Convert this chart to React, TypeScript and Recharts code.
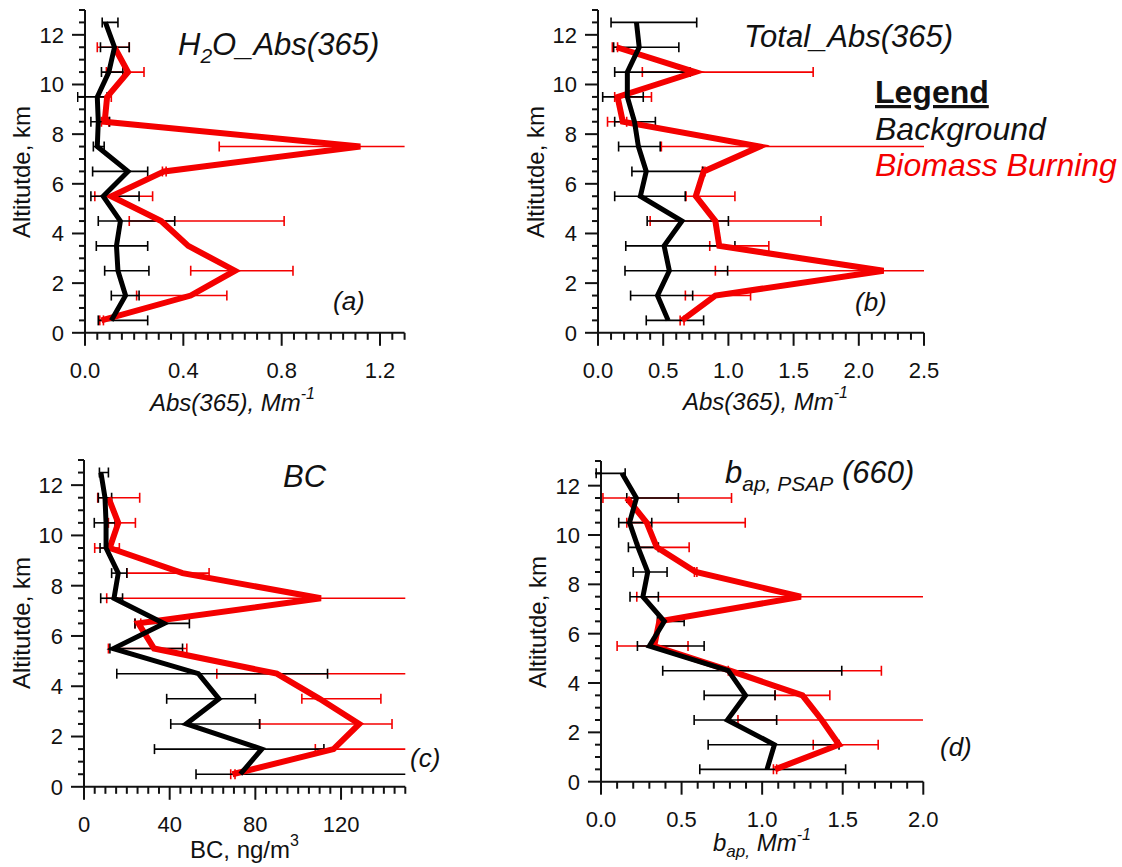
import React from 'react';
import { ScatterChart, Scatter, XAxis, YAxis, ErrorBar } from 'recharts';

// Altitude bin centres (km) shared by every profile
const ALTITUDES = [0.5, 1.5, 2.5, 3.5, 4.5, 5.5, 6.5, 7.5, 8.5, 9.5, 10.5, 11.5, 12.5];

// (a) H2O_Abs(365), Mm^-1
const H2O_BG = [0.107, 0.165, 0.134, 0.128, 0.144, 0.074, 0.175, 0.05, 0.054, 0.05, 0.097, 0.12, 0.083];
const H2O_BG_LO = [0.054, 0.107, 0.08, 0.046, 0.054, 0.024, 0.031, 0.034, 0.024, -0.03, 0.067, 0.063, 0.07];
const H2O_BG_HI = [0.255, 0.22, 0.26, 0.255, 0.365, 0.22, 0.255, 0.078, 0.1, 0.09, 0.154, 0.18, 0.134];
const H2O_BB = [0.067, 0.43, 0.61, 0.42, 0.31, 0.107, 0.322, 1.12, 0.08, 0.09, 0.175, 0.12, null];
const H2O_BB_LO = [0.06, 0.21, 0.43, null, 0.18, 0.04, 0.315, 0.546, 0.067, 0.054, 0.087, 0.05, null];
const H2O_BB_HI = [0.075, 0.577, 0.846, null, 0.81, 0.275, 0.33, 1.5, 0.097, 0.107, 0.24, 0.18, null];

// (b) Total_Abs(365), Mm^-1
const TOT_BG = [0.538, 0.456, 0.547, 0.507, 0.644, 0.325, 0.37, 0.31, 0.28, 0.225, 0.225, 0.316, 0.295];
const TOT_BG_LO = [0.37, 0.25, 0.207, 0.213, 0.377, 0.128, 0.26, 0.158, 0.128, 0.036, 0.128, 0.12, 0.1];
const TOT_BG_HI = [0.81, 0.726, 0.994, 1.05, 1.0, 0.669, 0.805, 0.477, 0.44, 0.347, 0.705, 0.62, 0.757];
const TOT_BB = [0.644, 0.9, 2.19, 0.93, 0.9, 0.75, 0.81, 1.24, 0.19, 0.15, 0.745, 0.143, null];
const TOT_BB_LO = [0.63, 0.67, 0.9, 0.857, 0.4, 0.675, 0.8, 0.486, 0.073, 0.128, 0.34, 0.11, null];
const TOT_BB_HI = [0.66, 1.17, 2.8, 1.31, 1.71, 1.05, 0.82, 2.8, 0.22, 0.41, 1.65, 0.15, null];

// (c) BC, ng/m^3
const BC_BG = [73, 83, 47.7, 63, 53.4, 13.7, 37.4, 14, 16, 10.3, 10.3, 9.8, 7.9];
const BC_BG_LO = [52.3, 32.9, 40.5, 38.6, 15.3, 12.1, 23.8, 7.8, 12.9, 7.5, 4.8, 6.7, 7.2];
const BC_BG_HI = [160, 112, 82, 80, 113.7, 46, 49.2, 18, 20, 11.4, 14.5, 12.9, 11.4];
const BC_BB = [69.3, 116.5, 128.5, 110, 90, 32.7, 25.4, 110.6, 46, 12, 16, 11.4, null];
const BC_BB_LO = [68.5, 108, 82, 101.7, 62, 11.4, 23.8, 10.6, 20, 5, 11.4, 6.4, null];
const BC_BB_HI = [70.5, 160, 143.8, 138.6, 160, 48, 26.5, 160, 58.4, 16.5, 24, 26, null];

// (d) b_ap, PSAP (660), Mm^-1
const PSAP_BG = [1.03, 1.076, 0.784, 0.897, 0.79, 0.3, 0.393, 0.26, 0.29, 0.23, 0.177, 0.22, 0.13];
const PSAP_BG_LO = [0.613, 0.665, 0.578, 0.64, 0.383, 0.226, 0.35, 0.18, 0.2, 0.17, 0.11, 0.16, -0.03];
const PSAP_BG_HI = [1.518, 1.477, 1.09, 1.08, 1.494, 0.64, 0.516, 0.356, 0.41, 0.356, 0.315, 0.48, 0.15];
const PSAP_BB = [1.08, 1.477, 1.37, 1.25, 0.8, 0.33, 0.362, 1.24, 0.588, 0.346, 0.284, 0.16, null];
const PSAP_BB_LO = [1.07, 1.317, 0.85, 1.08, 0.79, 0.1, 0.355, 0.222, 0.58, 0.232, 0.16, 0.012, null];
const PSAP_BB_HI = [1.09, 1.72, 2.3, 1.42, 1.74, 0.54, 0.37, 2.3, 0.595, 0.547, 0.895, 0.81, null];

// Labelled ticks
const Y_MAJOR = [0, 2, 4, 6, 8, 10, 12];
const A_X_MAJOR = [0, 0.4, 0.8, 1.2];
const B_X_MAJOR = [0, 0.5, 1.0, 1.5, 2.0, 2.5];
const C_X_MAJOR = [0, 40, 80, 120];
const D_X_MAJOR = [0, 0.5, 1.0, 1.5, 2.0];

const FONT = '"Liberation Sans", Arial, Helvetica, sans-serif';
const INK = '#111';
const RED = '#f40000';

type Row = { alt: number; v: number; err?: [number, number] };

function profile(vals: (number | null)[], lo: (number | null)[], hi: (number | null)[]): Row[] {
  const rows: Row[] = [];
  ALTITUDES.forEach((alt, i) => {
    const v = vals[i];
    if (v == null) return;
    const row: Row = { alt, v };
    const l = lo[i];
    const h = hi[i];
    if (l != null && h != null) row.err = [v - l, h - v];
    rows.push(row);
  });
  return rows;
}

function tickRange(max: number, step: number): number[] {
  const n = Math.round(max / step);
  const out: number[] = [];
  for (let i = 0; i <= n; i++) out.push(+(i * step).toFixed(4));
  return out;
}

const isMajor = (v: number, majors: number[]) => majors.some((m) => Math.abs(m - v) < 1e-6);

const Y_TICKS = tickRange(13, 0.5);

const emptyShape = () => <g />;

// Frame geometry around each plot area
const ML = 80;
const MT = 10;
const MR = 24;
const XH = 60;

type PanelProps = {
  left: number;
  top: number;
  plotW: number;
  plotH: number;
  xMax: number;
  xStep: number;
  xMajors: number[];
  xFmt: (v: number) => string;
  bg: Row[];
  bb: Row[];
};

function Panel(p: PanelProps) {
  const width = p.plotW + ML + MR;
  const height = p.plotH + MT + XH;
  const xTicks = tickRange(p.xMax, p.xStep);

  const renderXTick = (props: any) => {
    const { x, y, payload } = props;
    const major = isMajor(payload.value, p.xMajors);
    return (
      <g>
        <line x1={x} x2={x} y1={y} y2={y + (major ? 13 : 7)} stroke={INK} strokeWidth={2} />
        {major && (
          <text x={x} y={y + 45} textAnchor="middle" fontSize={22} fill={INK} fontFamily={FONT}>
            {p.xFmt(payload.value)}
          </text>
        )}
      </g>
    );
  };

  const renderYTick = (props: any) => {
    const { x, y, payload } = props;
    const major = isMajor(payload.value, Y_MAJOR);
    return (
      <g>
        <line x1={x} x2={x - (major ? 13 : 6)} y1={y} y2={y} stroke={INK} strokeWidth={2} />
        {major && (
          <text x={x - 21} y={y} dy="0.36em" textAnchor="end" fontSize={22} fill={INK} fontFamily={FONT}>
            {payload.value}
          </text>
        )}
      </g>
    );
  };

  const axes = (visible: boolean) => [
    <XAxis
      key="x"
      type="number"
      dataKey="v"
      domain={[0, p.xMax]}
      allowDataOverflow
      ticks={xTicks}
      interval={0}
      tickSize={0}
      tickMargin={0}
      tickLine={false}
      axisLine={visible ? { stroke: INK, strokeWidth: 2 } : false}
      height={XH}
      tick={visible ? renderXTick : false}
    />,
    <YAxis
      key="y"
      type="number"
      dataKey="alt"
      domain={[0, 13]}
      allowDataOverflow
      ticks={Y_TICKS}
      interval={0}
      tickSize={0}
      tickMargin={0}
      tickLine={false}
      axisLine={visible ? { stroke: INK, strokeWidth: 2 } : false}
      width={ML}
      tick={visible ? renderYTick : false}
    />,
  ];

  const boxStyle = { position: 'absolute' as const, left: p.left - ML, top: p.top - MT };

  return (
    <>
      {/* frame: axes, ticks and tick labels */}
      <div style={boxStyle}>
        <ScatterChart width={width} height={height} margin={{ top: MT, right: MR, bottom: 0, left: 0 }}>
          {axes(true)}
          <Scatter data={p.bg} shape={emptyShape} legendType="none" isAnimationActive={false} />
        </ScatterChart>
      </div>
      {/* profiles, cut off at the ends of the value axis */}
      <div style={{ ...boxStyle, clipPath: `inset(0px ${MR}px 0px ${ML - 8}px)` }}>
        <ScatterChart width={width} height={height} margin={{ top: MT, right: MR, bottom: 0, left: 0 }}>
          {axes(false)}
          <Scatter
            name="Biomass Burning"
            data={p.bb}
            fill={RED}
            line={{ stroke: RED, strokeWidth: 6 }}
            shape={emptyShape}
            legendType="none"
            isAnimationActive={false}
          >
            <ErrorBar dataKey="err" direction="x" width={5} stroke={RED} strokeWidth={1.6} isAnimationActive={false} />
          </Scatter>
          <Scatter
            name="Background"
            data={p.bg}
            fill="#000"
            line={{ stroke: '#000', strokeWidth: 5 }}
            shape={emptyShape}
            legendType="none"
            isAnimationActive={false}
          >
            <ErrorBar dataKey="err" direction="x" width={5} stroke="#000" strokeWidth={1.6} isAnimationActive={false} />
          </Scatter>
        </ScatterChart>
      </div>
    </>
  );
}

const fmt1 = (v: number) => v.toFixed(1);
const fmt0 = (v: number) => String(Math.round(v));

function Annotations() {
  const italic = { fontFamily: FONT, fontStyle: 'italic' as const, fill: INK };
  const yTitle = (x: number, y: number) => (
    <text
      transform={`translate(${x},${y}) rotate(-90)`}
      textAnchor="middle"
      dy="0.36em"
      fontSize={24}
      fontFamily={FONT}
      fill={INK}
    >
      Altitutde, km
    </text>
  );
  return (
    <svg
      width={1122}
      height={867}
      style={{ position: 'absolute', left: 0, top: 0, pointerEvents: 'none' }}
    >
      {/* axis titles */}
      {yTitle(21, 172)}
      {yTitle(535, 172)}
      {yTitle(21, 623)}
      {yTitle(537, 622)}

      <text x={150} y={411} fontSize={24} {...italic}>
        Abs(365), Mm
        <tspan dy={-12} fontSize={16}>-1</tspan>
      </text>
      <text x={683} y={410} fontSize={24} {...italic}>
        Abs(365), Mm
        <tspan dy={-12} fontSize={16}>-1</tspan>
      </text>
      <text x={190} y={858} fontSize={24} fontFamily={FONT} fill={INK}>
        BC, ng/m
        <tspan dy={-12} fontSize={16}>3</tspan>
      </text>
      <text x={713} y={851} fontSize={24} {...italic}>
        b
        <tspan dy={6} fontSize={17}>ap,</tspan>
        <tspan dy={-6} fontSize={24}> Mm</tspan>
        <tspan dy={-11} fontSize={16}>-1</tspan>
      </text>

      {/* panel titles */}
      <text x={178} y={55} fontSize={31} {...italic}>
        H
        <tspan dy={8} fontSize={21}>2</tspan>
        <tspan dy={-8}>O_Abs(365)</tspan>
      </text>
      <text x={744} y={47} fontSize={31} {...italic}>
        Total_Abs(365)
      </text>
      <text x={283} y={487} fontSize={31} {...italic}>
        BC
      </text>
      <text x={725} y={483} fontSize={31} {...italic}>
        b
        <tspan dy={8} fontSize={21}>ap, PSAP</tspan>
        <tspan dy={-8}> (660)</tspan>
      </text>

      {/* panel letters */}
      <text x={333} y={310} fontSize={26} {...italic}>(a)</text>
      <text x={855} y={311} fontSize={26} {...italic}>(b)</text>
      <text x={410} y={767} fontSize={26} {...italic}>(c)</text>
      <text x={940} y={756} fontSize={26} {...italic}>(d)</text>

      {/* legend */}
      <text x={875} y={103} fontSize={32} fontWeight="bold" fontFamily={FONT} fill={INK} textDecoration="underline">
        Legend
      </text>
      <text x={875} y={140} fontSize={32} {...italic}>
        Background
      </text>
      <text x={875} y={176} fontSize={32} fontFamily={FONT} fontStyle="italic" fill={RED}>
        Biomass Burning
      </text>
    </svg>
  );
}

export default function App() {
  return (
    <div style={{ position: 'absolute', left: 0, top: 0, width: 1122, height: 867, background: '#fff', fontFamily: FONT }}>
      <Panel
        left={85}
        top={10.2}
        plotW={319.6}
        plotH={322.8}
        xMax={1.3}
        xStep={0.05}
        xMajors={A_X_MAJOR}
        xFmt={fmt1}
        bg={profile(H2O_BG, H2O_BG_LO, H2O_BG_HI)}
        bb={profile(H2O_BB, H2O_BB_LO, H2O_BB_HI)}
      />
      <Panel
        left={598}
        top={10.2}
        plotW={326}
        plotH={322.8}
        xMax={2.5}
        xStep={0.1}
        xMajors={B_X_MAJOR}
        xFmt={fmt1}
        bg={profile(TOT_BG, TOT_BG_LO, TOT_BG_HI)}
        bb={profile(TOT_BB, TOT_BB_LO, TOT_BB_HI)}
      />
      <Panel
        left={84}
        top={459.9}
        plotW={321.3}
        plotH={326.8}
        xMax={150}
        xStep={5}
        xMajors={C_X_MAJOR}
        xFmt={fmt0}
        bg={profile(BC_BG, BC_BG_LO, BC_BG_HI)}
        bb={profile(BC_BB, BC_BB_LO, BC_BB_HI)}
      />
      <Panel
        left={600.7}
        top={461}
        plotW={322.3}
        plotH={320.7}
        xMax={2.0}
        xStep={0.1}
        xMajors={D_X_MAJOR}
        xFmt={fmt1}
        bg={profile(PSAP_BG, PSAP_BG_LO, PSAP_BG_HI)}
        bb={profile(PSAP_BB, PSAP_BB_LO, PSAP_BB_HI)}
      />
      <Annotations />
    </div>
  );
}
